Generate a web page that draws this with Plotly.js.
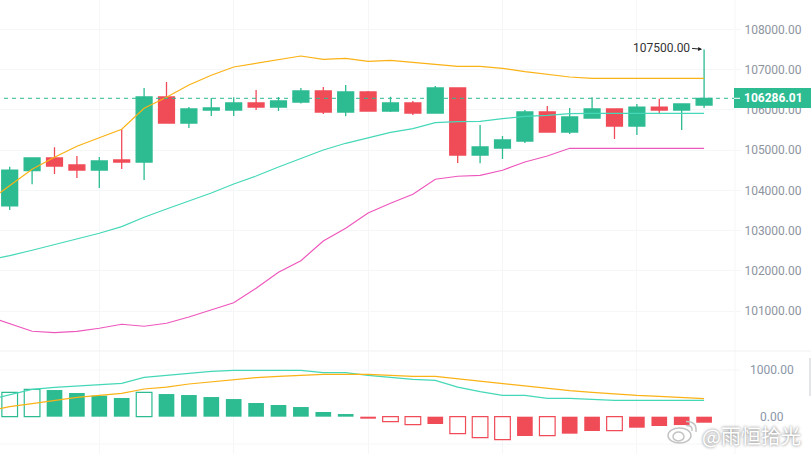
<!DOCTYPE html>
<html>
<head>
<meta charset="utf-8">
<script src="https://cdn.plot.ly/plotly-3.0.1.min.js"></script>
<style>html,body{margin:0;padding:0;background:#fff;overflow:hidden}</style>
</head>
<body>
<div id="chart" style="width:811px;height:454px"></div>
<script>
// Candles, oldest first
const opens = [103617,104487,104803,104629,104504,104753,104703,106318,105672,105995,105995,106169,106069,106194,106467,105945,106442,105970,106169,105920,106542,104877,105051,105225,105945,105448,105796,106020,105597,106069,105995,106119];
const highs = [104586,104803,105068,104852,104827,105516,106542,106691,106069,106293,106310,106492,106318,106542,106566,106616,106467,106325,106219,106591,106542,105622,105349,105995,106094,106045,106310,106027,106144,106276,106144,107500];
const lows = [103510,104149,104405,104306,104057,104529,104256,105672,105548,105846,105846,105995,105970,106154,105896,105839,105970,105945,105871,105920,104678,104671,104778,105175,105448,105399,105796,105275,105374,105920,105498,106045];
const closes = [104504,104803,104604,104504,104728,104703,106318,105672,106020,106045,106169,106069,106219,106467,105945,106442,105970,106169,105920,106542,104877,105076,105250,105945,105448,105821,106020,105597,106069,105995,106144,106286.01];

// Bollinger bands, first value belongs to the candle just off the left edge
const bollUpper = [103710,104115,104522,104820,105094,105307,105516,106038,106311,106616,106857,107064,107155,107237,107337,107255,107280,107205,107230,107180,107131,107081,107081,107031,106947,106872,106815,106783,106783,106783,106783,106783,106783];
const bollMiddle = [102269,102376,102510,102649,102784,102933,103097,103330,103536,103735,103934,104157,104356,104579,104791,105002,105168,105307,105441,105531,105680,105705,105715,105779,105839,105864,105903,105913,105913,105913,105913,105913,105913];
const bollLower = [100878,100680,100498,100464,100498,100573,100672,100623,100697,100853,101027,101206,101566,101964,102252,102741,103057,103437,103678,103901,104274,104349,104373,104498,104704,104853,105044,105044,105044,105044,105044,105044,105044];

// MACD panel
const macdHist = [521,585,571,507,450,400,521,485,464,421,378,293,250,207,100,57,-43,-107,-171,-157,-364,-450,-493,-414,-407,-364,-307,-300,-236,-200,-179,-129];
const macdHollow = [1,1,0,0,0,0,1,0,0,0,0,0,0,0,0,0,0,1,1,0,1,1,1,0,1,0,0,1,0,0,0,0];
const macdDif = [357,464,585,628,657,693,714,843,885,921,971,992,992,992,992,942,942,885,843,800,778,635,535,457,457,393,393,364,350,350,350,350,350];
const macdDea = [121,214,278,343,414,457,500,593,635,700,750,793,835,864,885,907,907,907,885,864,864,814,757,700,664,600,557,521,486,457,436,414,386];

const priceTicks = [101000,102000,103000,104000,105000,106000,107000,108000];
const macdTicks = [1000,0];
const lastPrice = 106286.01;
const highPrice = 107500;

const GREEN = "#2dbb92";
const RED = "#f04c58";
const ORANGE = "#fbb216";
const TEAL = "#45d8b8";
const PINK = "#ee58bd";
const GRID = "#f5f6f8";
const LABEL = "#8d949e";
const FONT = "Roboto, Arial, sans-serif";

const W = 811;
const H = 454;
const PLOT_RIGHT = 735 / W;

const candleX = opens.map((_, i) => i);
const lineX = bollUpper.map((_, i) => i - 1);

function line(y, color, yaxis) {
  return {
    x: lineX,
    y: y,
    yaxis: yaxis,
    type: "scatter",
    mode: "lines",
    line: { color: color, width: 1.2 },
    hoverinfo: "skip",
  };
}

// pixel helpers for the page furniture (not for data marks)
const px = (x) => x / W;
const py = (y) => 1 - y / H;

const traces = [
  {
    x: candleX,
    open: opens,
    high: highs,
    low: lows,
    close: closes,
    type: "candlestick",
    increasing: { line: { color: GREEN, width: 1.3 }, fillcolor: GREEN },
    decreasing: { line: { color: RED, width: 1.3 }, fillcolor: RED },
    whiskerwidth: 0,
    hoverinfo: "skip",
  },
  line(bollUpper, ORANGE, "y"),
  line(bollMiddle, TEAL, "y"),
  line(bollLower, PINK, "y"),
  {
    x: candleX,
    y: macdHist,
    yaxis: "y2",
    type: "bar",
    width: 0.7,
    marker: {
      color: macdHist.map((v, i) => (macdHollow[i] ? "#ffffff" : v >= 0 ? GREEN : RED)),
      line: {
        color: macdHist.map((v) => (v >= 0 ? GREEN : RED)),
        width: macdHollow.map((h) => (h ? 1.2 : 0)),
      },
    },
    hoverinfo: "skip",
  },
  line(macdDif, TEAL, "y2"),
  line(macdDea, ORANGE, "y2"),
];

const shapes = [
  // panel divider and the MACD panel's own grid
  { type: "line", xref: "paper", yref: "paper", x0: 0, x1: 1, y0: py(351), y1: py(351), line: { color: "#f0f1f3", width: 1 } },
  { type: "line", xref: "paper", yref: "y2", x0: 0, x1: px(740), y0: 1000, y1: 1000, line: { color: GRID, width: 1 }, layer: "below" },
  { type: "line", xref: "paper", yref: "y2", x0: 0, x1: px(740), y0: -585, y1: -585, line: { color: GRID, width: 1 }, layer: "below" },
  { type: "line", xref: "paper", yref: "paper", x0: PLOT_RIGHT, x1: PLOT_RIGHT, y0: 0, y1: 1, line: { color: GRID, width: 1 }, layer: "below" },
  // last price line and its tag
  { type: "line", xref: "paper", yref: "y", x0: px(4), x1: PLOT_RIGHT, y0: lastPrice, y1: lastPrice, line: { color: GREEN, width: 1, dash: "4px,4px" } },
  { type: "rect", xref: "paper", yref: "paper", x0: px(734), x1: 1, y0: py(88), y1: py(108), fillcolor: GREEN, line: { width: 0 } },
  { type: "line", xref: "paper", yref: "y", x0: px(734), x1: px(740), y0: lastPrice, y1: lastPrice, line: { color: "#ffffff", width: 1 } },
  // scrollbar thumb
  { type: "rect", xref: "paper", yref: "paper", x0: px(809), x1: 1, y0: py(358), y1: py(396), fillcolor: "#e3e5e8", line: { width: 0 } },
  // watermark logo
  { type: "circle", xref: "paper", yref: "paper", x0: px(668), x1: px(691), y0: py(428), y1: py(443), fillcolor: "rgba(255,255,255,0.7)", line: { color: "#c4c4c4", width: 1.5 } },
  { type: "circle", xref: "paper", yref: "paper", x0: px(673), x1: px(684), y0: py(432), y1: py(441), fillcolor: "rgba(255,255,255,0.7)", line: { color: "#c4c4c4", width: 1.5 } },
  { type: "path", xref: "paper", yref: "paper", path: `M ${px(686)} ${py(421.5)} Q ${px(697)} ${py(421)} ${px(696)} ${py(432)}`, line: { color: "#c4c4c4", width: 1.5 } },
  { type: "path", xref: "paper", yref: "paper", path: `M ${px(686)} ${py(425.5)} Q ${px(693)} ${py(425)} ${px(692)} ${py(431)}`, line: { color: "#c4c4c4", width: 1.5 } },
];

const annotations = [
  {
    x: 31,
    y: highPrice,
    xref: "x",
    yref: "y",
    text: highPrice.toFixed(2),
    showarrow: true,
    arrowhead: 2,
    arrowsize: 0.8,
    arrowwidth: 1,
    arrowcolor: "#222222",
    standoff: 2,
    ax: -12,
    ay: -1,
    xanchor: "right",
    font: { family: FONT, size: 12, color: "#333333" },
  },
  {
    x: px(743),
    y: lastPrice,
    xref: "paper",
    yref: "y",
    text: "<b>" + lastPrice.toFixed(2) + "</b>",
    showarrow: false,
    xanchor: "left",
    xshift: -1,
    font: { family: FONT, size: 12, color: "#ffffff" },
  },
  {
    x: px(702),
    y: py(435),
    xref: "paper",
    yref: "paper",
    text: "@雨恒拾光",
    showarrow: false,
    xanchor: "left",
    yanchor: "middle",
    xshift: -2,
    font: { family: '"Noto Sans CJK SC", sans-serif', size: 20, color: "#ffffff", shadow: "0 0 3px #666666" },
  },
].concat(
  macdTicks.map((v) => ({
    x: px(772),
    y: v,
    xref: "paper",
    yref: "y2",
    text: v.toFixed(2),
    showarrow: false,
    xanchor: "center",
    font: { family: FONT, size: 12, color: "#8a96a8" },
  }))
);

const layout = {
  width: W,
  height: H,
  margin: { l: 0, r: 0, t: 0, b: 0 },
  paper_bgcolor: "#ffffff",
  plot_bgcolor: "rgba(0,0,0,0)",
  showlegend: false,
  hovermode: false,
  boxmode: "overlay",
  boxgap: 0.29,
  boxgroupgap: 0,
  xaxis: {
    domain: [0, PLOT_RIGHT],
    range: [-0.433, 32.38],
    rangeslider: { visible: false },
    showticklabels: false,
    ticks: "",
    tickmode: "array",
    tickvals: [4, 10, 16, 22, 28],
    showgrid: true,
    gridcolor: GRID,
    gridwidth: 1,
    zeroline: false,
    showline: false,
    anchor: "y2",
  },
  yaxis: {
    domain: [1 - 351 / H, 1],
    range: [100008, 108728],
    side: "right",
    tickmode: "array",
    tickvals: priceTicks,
    ticktext: priceTicks.map((v) => v.toFixed(2)),
    ticks: "outside",
    ticklen: 5,
    tickcolor: GRID,
    ticklabelstandoff: 1,
    tickfont: { family: FONT, size: 12, color: LABEL },
    showgrid: true,
    gridcolor: GRID,
    gridwidth: 1,
    zeroline: false,
    showline: false,
    anchor: "x",
  },
  yaxis2: {
    domain: [0, 1 - 351 / H],
    range: [-799, 1407],
    side: "right",
    showticklabels: false,
    ticks: "",
    showgrid: false,
    zeroline: false,
    showline: false,
    anchor: "x",
  },
  shapes: shapes,
  annotations: annotations,
};

Plotly.newPlot("chart", traces, layout, { displayModeBar: false, staticPlot: true });
</script>
</body>
</html>
